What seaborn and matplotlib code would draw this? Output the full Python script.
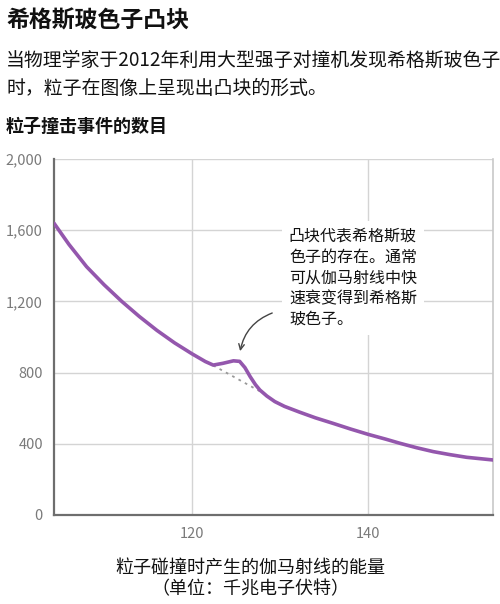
import matplotlib
matplotlib.use("Agg")
import matplotlib.pyplot as plt
import seaborn as sns
import pandas as pd

# ---- data ----
energy = [104.3, 106, 108, 110, 112, 114, 116, 118, 120, 121.5, 122.4, 123.5,
          124.7, 125.4, 126.0, 126.6, 127.2, 127.7, 128.5, 129.4, 130.5, 132.2,
          134, 136, 138, 140, 142, 143.6, 145.5, 147.4, 149.3, 151.2, 154.2]
counts = [1639, 1520, 1395, 1293, 1200, 1115, 1037, 967, 905, 862, 842, 852,
          866, 863, 828, 777, 732, 702, 668, 637, 610, 578,
          546, 515, 483, 453, 426, 403, 378, 356, 339, 324, 309]
bg_energy = [122.4, 128.1]
bg_counts = [840, 684]
y_ticks = [0, 400, 800, 1200, 1600, 2000]
y_labels = ["0", "400", "800", "1,200", "1,600", "2,000"]
x_ticks = [120, 140]
x_labels = ["120", "140"]

title = "希格斯玻色子凸块"
subtitle = "当物理学家于2012年利用大型强子对撞机发现希格斯玻色子\n时，粒子在图像上呈现出凸块的形式。"
ylab = "粒子撞击事件的数目"
xlab = "粒子碰撞时产生的伽马射线的能量\n（单位：千兆电子伏特）"
note = "凸块代表希格斯玻\n色子的存在。通常\n可从伽马射线中快\n速衰变得到希格斯\n玻色子。"

sns.set_style("white")
plt.rcParams["font.family"] = ["Noto Sans CJK SC", "DejaVu Sans"]

fig = plt.figure(figsize=(5.0, 6.04), dpi=100)
ax = fig.add_axes([0.108, 0.1474, 0.878, 0.5894])

df = pd.DataFrame({"energy": energy, "counts": counts})
bg = pd.DataFrame({"energy": bg_energy, "counts": bg_counts})

sns.lineplot(data=bg, x="energy", y="counts", ax=ax, color="#999999",
             linestyle=(0, (1.5, 2.5)), linewidth=1.3, zorder=2)
sns.lineplot(data=df, x="energy", y="counts", ax=ax, color="#9457ad",
             linewidth=2.6, zorder=3)

ax.set_xlim(104.3, 154.2)
ax.set_ylim(0, 2000)
ax.set_yticks(y_ticks)
ax.set_yticklabels(y_labels)
ax.set_xticks(x_ticks)
ax.set_xticklabels(x_labels)
ax.tick_params(axis="both", length=0, labelsize=10.5, colors="#7a7a7a")
ax.tick_params(axis="y", pad=8)
ax.tick_params(axis="x", pad=9)
ax.grid(True, color="#d4d4d4", linewidth=1.0, zorder=0)
ax.set_axisbelow(True)
for s in ["left", "bottom"]:
    ax.spines[s].set_color("#6e6e6e")
    ax.spines[s].set_linewidth(1.6)
ax.spines["right"].set_color("#c8c8c8")
ax.spines["right"].set_linewidth(1.2)
ax.spines["top"].set_visible(False)
ax.set_xlabel("")
ax.set_ylabel("")

ax.text(131.0, 1615, note, ha="left", va="top", fontsize=11.5,
        linespacing=1.3, color="#111111", zorder=4,
        bbox=dict(facecolor="white", edgecolor="none", pad=5))
ax.annotate("", xy=(125.4, 905), xytext=(129.4, 1140),
            arrowprops=dict(arrowstyle="->", color="#444444", lw=1.0,
                            connectionstyle="arc3,rad=0.3"), zorder=5)

fig.text(0.012, 0.965, title, fontsize=16.5, fontweight="bold",
         ha="left", va="center", color="#111111")
fig.text(0.012, 0.918, subtitle, fontsize=13.6, ha="left", va="top",
         linespacing=1.45, color="#111111")
fig.text(0.012, 0.790, ylab, fontsize=13, fontweight="bold",
         ha="left", va="center", color="#111111")
fig.text(0.5, 0.041, xlab, fontsize=13, ha="center", va="center",
         linespacing=1.2, color="#111111")

fig.savefig("out.png", dpi=100)
